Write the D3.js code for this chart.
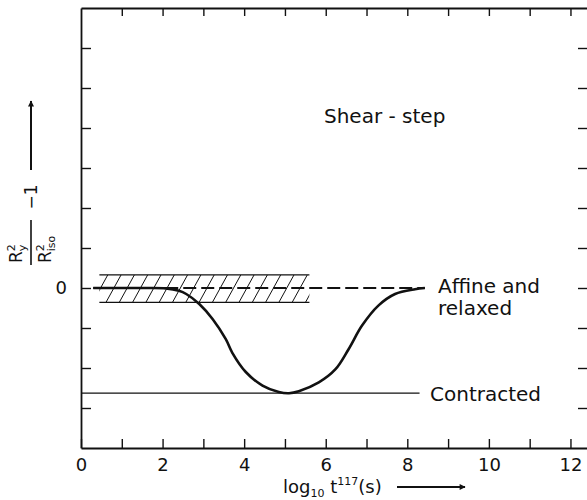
<!DOCTYPE html>
<html>
<head>
<meta charset="utf-8">
<script src="https://cdn.jsdelivr.net/npm/d3@7"></script>
<style>
  html, body { margin: 0; padding: 0; background: #fff; }
  svg { display: block; font-family: "DejaVu Sans", sans-serif; }
</style>
</head>
<body>
<svg id="chart" width="587" height="500"></svg>
<script>
// ---------- data ----------
const xTickValues = [0, 1, 2, 3, 4, 5, 6, 7, 8, 9, 10, 11, 12];
const xTickLabels = ["0", "2", "4", "6", "8", "10", "12"];
const yTickValues = [-3, -2, -1, 0, 1, 2, 3, 4, 5, 6];
const yTickLabels = ["0"];
// solid curve: log10 t vs (R_y^2/R_iso^2 - 1), arbitrary units
const curveX = [0.3, 1.0, 1.6, 2.08, 2.4, 2.58, 2.9, 3.23, 3.55, 3.71, 4.04, 4.45, 4.85, 5.1, 5.34, 5.83, 6.24, 6.56, 6.89, 7.29, 7.7, 8.19, 8.43];
const curveY = [0, 0, 0, -0.01, -0.07, -0.15, -0.4, -0.78, -1.28, -1.62, -2.1, -2.44, -2.6, -2.63, -2.58, -2.36, -2.03, -1.53, -0.94, -0.44, -0.15, -0.03, 0];
// affine & relaxed (dashed) level
const affineX = [0.3, 8.43];
const affineY = [0, 0];
// contracted level
const contractedX = [0, 8.3];
const contractedY = [-2.63, -2.63];
// hatched band (uncertainty around zero)
const bandX = [0.45, 5.6];
const bandY = [-0.36, 0.33];

// ---------- layout ----------
const svg = d3.select("#chart");
const x = d3.scaleLinear().domain([0, 12.43]).range([81, 588]);
const y = d3.scaleLinear().domain([-4, 7]).range([448, 8]);
const ink = "#111";

// hatched band
const defs = svg.append("defs");
defs.append("clipPath").attr("id", "bandClip")
  .append("rect")
  .attr("x", x(bandX[0])).attr("y", y(bandY[1]))
  .attr("width", x(bandX[1]) - x(bandX[0]))
  .attr("height", y(bandY[0]) - y(bandY[1]));

const band = svg.append("g");
const bTop = y(bandY[1]), bBot = y(bandY[0]);
const hatchG = band.append("g").attr("clip-path", "url(#bandClip)");
const slant = (bBot - bTop) * 0.55;
d3.range(x(bandX[0]) - 20, x(bandX[1]) + 20, 13.3).forEach(px => {
  hatchG.append("line")
    .attr("x1", px).attr("y1", bBot)
    .attr("x2", px + slant).attr("y2", bTop)
    .attr("stroke", ink).attr("stroke-width", 1);
});
[bandY[0], bandY[1]].forEach(v => {
  band.append("line")
    .attr("x1", x(bandX[0])).attr("x2", x(bandX[1]))
    .attr("y1", y(v)).attr("y2", y(v))
    .attr("stroke", ink).attr("stroke-width", 1.2);
});

// contracted line
svg.append("line")
  .attr("x1", x(contractedX[0])).attr("x2", x(contractedX[1]))
  .attr("y1", y(contractedY[0])).attr("y2", y(contractedY[1]))
  .attr("stroke", ink).attr("stroke-width", 1.2);

// dashed affine line
svg.append("line")
  .attr("x1", x(affineX[0])).attr("x2", x(affineX[1]))
  .attr("y1", y(affineY[0])).attr("y2", y(affineY[1]))
  .attr("stroke", ink).attr("stroke-width", 2.2)
  .attr("stroke-dasharray", "13,5");

// solid curve
const pts = curveX.map((v, i) => [v, curveY[i]]);
svg.append("path")
  .datum(pts)
  .attr("fill", "none")
  .attr("stroke", ink)
  .attr("stroke-width", 2.6)
  .attr("d", d3.line().x(d => x(d[0])).y(d => y(d[1])).curve(d3.curveCatmullRom.alpha(0.5)));

// ---------- axes ----------
const styleAxis = g => {
  g.selectAll("path.domain").attr("stroke", ink).attr("stroke-width", 1.8);
  g.selectAll(".tick line").attr("stroke", ink).attr("stroke-width", 1.4);
  g.selectAll("text").attr("fill", ink).attr("font-family", "DejaVu Sans, sans-serif").attr("font-size", 18);
};

const xBottom = d3.axisBottom(x).tickValues(xTickValues).tickSize(-9).tickSizeOuter(0).tickPadding(10)
  .tickFormat(d => xTickLabels.includes(String(d)) ? String(d) : "");
svg.append("g").attr("transform", `translate(0,${y(-4)})`).call(xBottom).call(styleAxis);

const xTop = d3.axisTop(x).tickValues(xTickValues.filter(d => d > 0)).tickSize(-8).tickSizeOuter(0).tickFormat("");
svg.append("g").attr("transform", `translate(0,${y(7)})`).call(xTop).call(styleAxis);

const yLeft = d3.axisLeft(y).tickValues(yTickValues).tickSize(-10).tickSizeOuter(0).tickPadding(14)
  .tickFormat(d => yTickLabels.includes(String(d)) ? String(d) : "");
svg.append("g").attr("transform", `translate(${x(0)},0)`).call(yLeft).call(styleAxis);

const yRight = d3.axisRight(y).tickValues(yTickValues).tickSize(-10).tickSizeOuter(0).tickFormat("");
svg.append("g").attr("transform", `translate(${x(12.43)},0)`).call(yRight).call(styleAxis);

// ---------- annotations ----------
const ann = (txt, px, py) => svg.append("text")
  .attr("x", px).attr("y", py).attr("fill", ink).attr("font-size", 20).text(txt);
ann("Shear - step", 324, 123);
ann("Affine and", 438, 293);
ann("relaxed", 438, 315);
ann("Contracted", 430, 401);

// arrow marker
defs.append("marker").attr("id", "arrow")
  .attr("viewBox", "0 0 10 10").attr("refX", 9).attr("refY", 5)
  .attr("markerWidth", 9).attr("markerHeight", 6).attr("markerUnits", "userSpaceOnUse")
  .attr("orient", "auto")
  .append("path").attr("d", "M0,0 L10,5 L0,10 z").attr("fill", ink);

// x-axis title
const xt = svg.append("text").attr("x", 283).attr("y", 493).attr("fill", ink).attr("font-size", 18);
xt.append("tspan").text("log");
xt.append("tspan").attr("font-size", 11).attr("dy", 4).text("10");
xt.append("tspan").attr("dy", -4).text(" t");
xt.append("tspan").attr("font-size", 11).attr("dy", -8).text("117");
xt.append("tspan").attr("dy", 8).text("(s)");
svg.append("line").attr("x1", 397).attr("x2", 465).attr("y1", 487).attr("y2", 487)
  .attr("stroke", ink).attr("stroke-width", 2).attr("marker-end", "url(#arrow)");

// y-axis title (rotated)
const yl = svg.append("g").attr("transform", "translate(31,243) rotate(-90)");
const num = yl.append("text").attr("x", -20).attr("y", -9).attr("fill", ink).attr("font-size", 17);
num.append("tspan").text("R");
num.append("tspan").attr("font-size", 11).attr("dy", -7).text("2");
num.append("tspan").attr("font-size", 11).attr("dx", -7).attr("dy", 11).text("y");
yl.append("line").attr("x1", -22).attr("x2", 23).attr("y1", 0).attr("y2", 0)
  .attr("stroke", ink).attr("stroke-width", 1.6);
const den = yl.append("text").attr("x", -20).attr("y", 20).attr("fill", ink).attr("font-size", 17);
den.append("tspan").text("R");
den.append("tspan").attr("font-size", 11).attr("dy", -7).text("2");
den.append("tspan").attr("font-size", 11).attr("dx", -7).attr("dy", 11).text("iso");
yl.append("text").attr("x", 46).attr("y", 6).attr("text-anchor", "middle")
  .attr("fill", ink).attr("font-size", 17).text("−1");
yl.append("line").attr("x1", 73).attr("x2", 142).attr("y1", 0).attr("y2", 0)
  .attr("stroke", ink).attr("stroke-width", 2).attr("marker-end", "url(#arrow)");
</script>
</body>
</html>
